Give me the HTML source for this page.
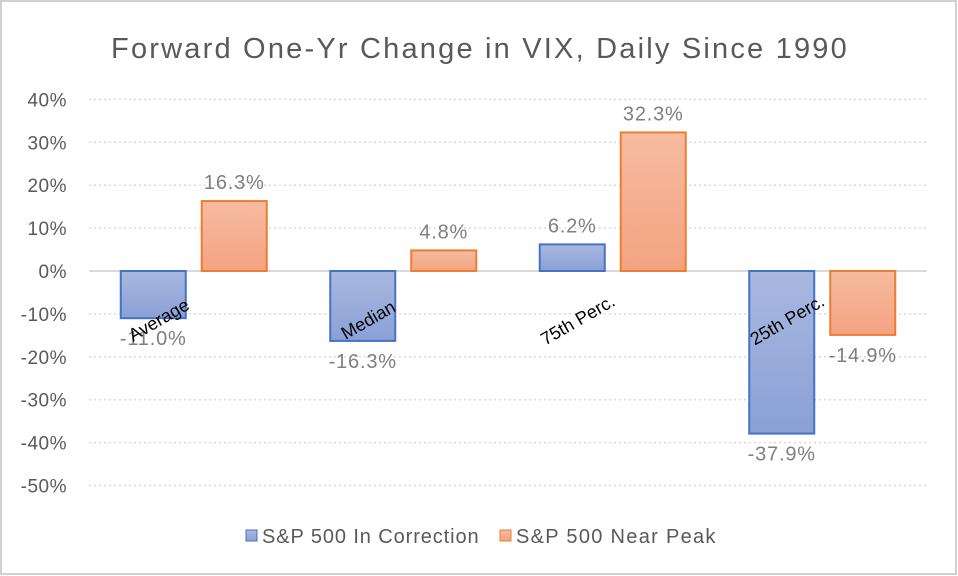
<!DOCTYPE html>
<html><head><meta charset="utf-8"><style>
body{margin:0;background:#fff}
svg{display:block;font-family:"Liberation Sans",sans-serif}
</style></head><body>
<svg id="chart" width="958" height="576" viewBox="0 0 958 576">
<defs>
<linearGradient id="gb" x1="0" y1="0" x2="0" y2="1"><stop offset="0" stop-color="#aab8e0"/><stop offset="1" stop-color="#8aa0d6"/></linearGradient>
<linearGradient id="go" x1="0" y1="0" x2="0" y2="1"><stop offset="0" stop-color="#f6bba0"/><stop offset="1" stop-color="#f4a381"/></linearGradient>
</defs>
<rect x="1" y="1" width="955" height="573" fill="#fff" stroke="#d0d0d0" stroke-width="2"/>
<text x="480" y="58" text-anchor="middle" font-size="29" letter-spacing="2.2" fill="#595959">Forward One-Yr Change in VIX, Daily Since 1990</text>
<g id="grid"></g><g id="bars"></g><g id="labels"></g>
<g>
<rect x="246" y="530" width="11" height="11" fill="url(#gb)" stroke="#4472c4"/>
<text x="262" y="543" font-size="20" letter-spacing="0.9" fill="#595959">S&amp;P 500 In Correction</text>
<rect x="500" y="530" width="11" height="11" fill="url(#go)" stroke="#ed7d31"/>
<text x="516" y="543" font-size="20" letter-spacing="1.3" fill="#595959">S&amp;P 500 Near Peak</text>
</g>
</svg>
<script>
const categories=["Average","Median","75th Perc.","25th Perc."];
const correction=[-11.0,-16.3,6.2,-37.9];
const nearPeak=[16.3,4.8,32.3,-14.9];
const ticks=[40,30,20,10,0,-10,-20,-30,-40,-50];
const NS="http://www.w3.org/2000/svg";
const L=89,R=927,Y0=271,PX=4.29;
const y=v=>Y0-v*PX;
const cw=(R-L)/categories.length;
const cx=i=>L+cw*(i+0.5);
function mk(t,a,p){const e=document.createElementNS(NS,t);for(const k in a)e.setAttribute(k,a[k]);p.appendChild(e);return e;}
const grid=document.getElementById('grid'),bars=document.getElementById('bars'),labels=document.getElementById('labels');
ticks.forEach(t=>{
  if(t!==0){const g=mk('line',{x1:L,x2:R,y1:y(t),y2:y(t),stroke:'#d9d9d9','stroke-width':1.5,'stroke-dasharray':'2 3'},grid);
  
  }
  const tx=mk('text',{x:67,y:y(t)+7,'text-anchor':'end','font-size':19,'letter-spacing':0.5,fill:'#595959'},grid);
  tx.textContent=t+'%';
  
  
});
const bw=65;
function bar(v,x,fill,stroke,name){
  const top=Math.min(y(v),Y0),h=Math.abs(y(v)-Y0);
  const r=mk('rect',{x:x,y:top,width:bw,height:h,fill:fill,stroke:stroke,'stroke-width':2},bars);
  
  
  const ly=v>=0?y(v)-12:y(v)+27;
  const t=mk('text',{x:x+bw/2,y:ly,'text-anchor':'middle','font-size':20,'letter-spacing':0.8,fill:'#7f7f7f'},labels);
  t.textContent=v.toFixed(1)+'%';
  
  
}
categories.forEach((c,i)=>{
  bar(correction[i],cx(i)-8-bw,'url(#gb)','#4472c4','bar-correction-'+i);
  bar(nearPeak[i],cx(i)+8,'url(#go)','#ed7d31','bar-peak-'+i);
});
const ax=mk('line',{x1:L,x2:R,y1:Y0,y2:Y0,stroke:'#d9d9d9','stroke-width':2},grid);


categories.forEach((c,i)=>{
  const x=cx(i)-35,yy=326;
  const t=mk('text',{x:x,y:yy,'text-anchor':'middle','font-size':18,fill:'#000',transform:`rotate(-30 ${x} ${yy-6})`},labels);
  t.textContent=c;
  
  
});
</script>
</body></html>
